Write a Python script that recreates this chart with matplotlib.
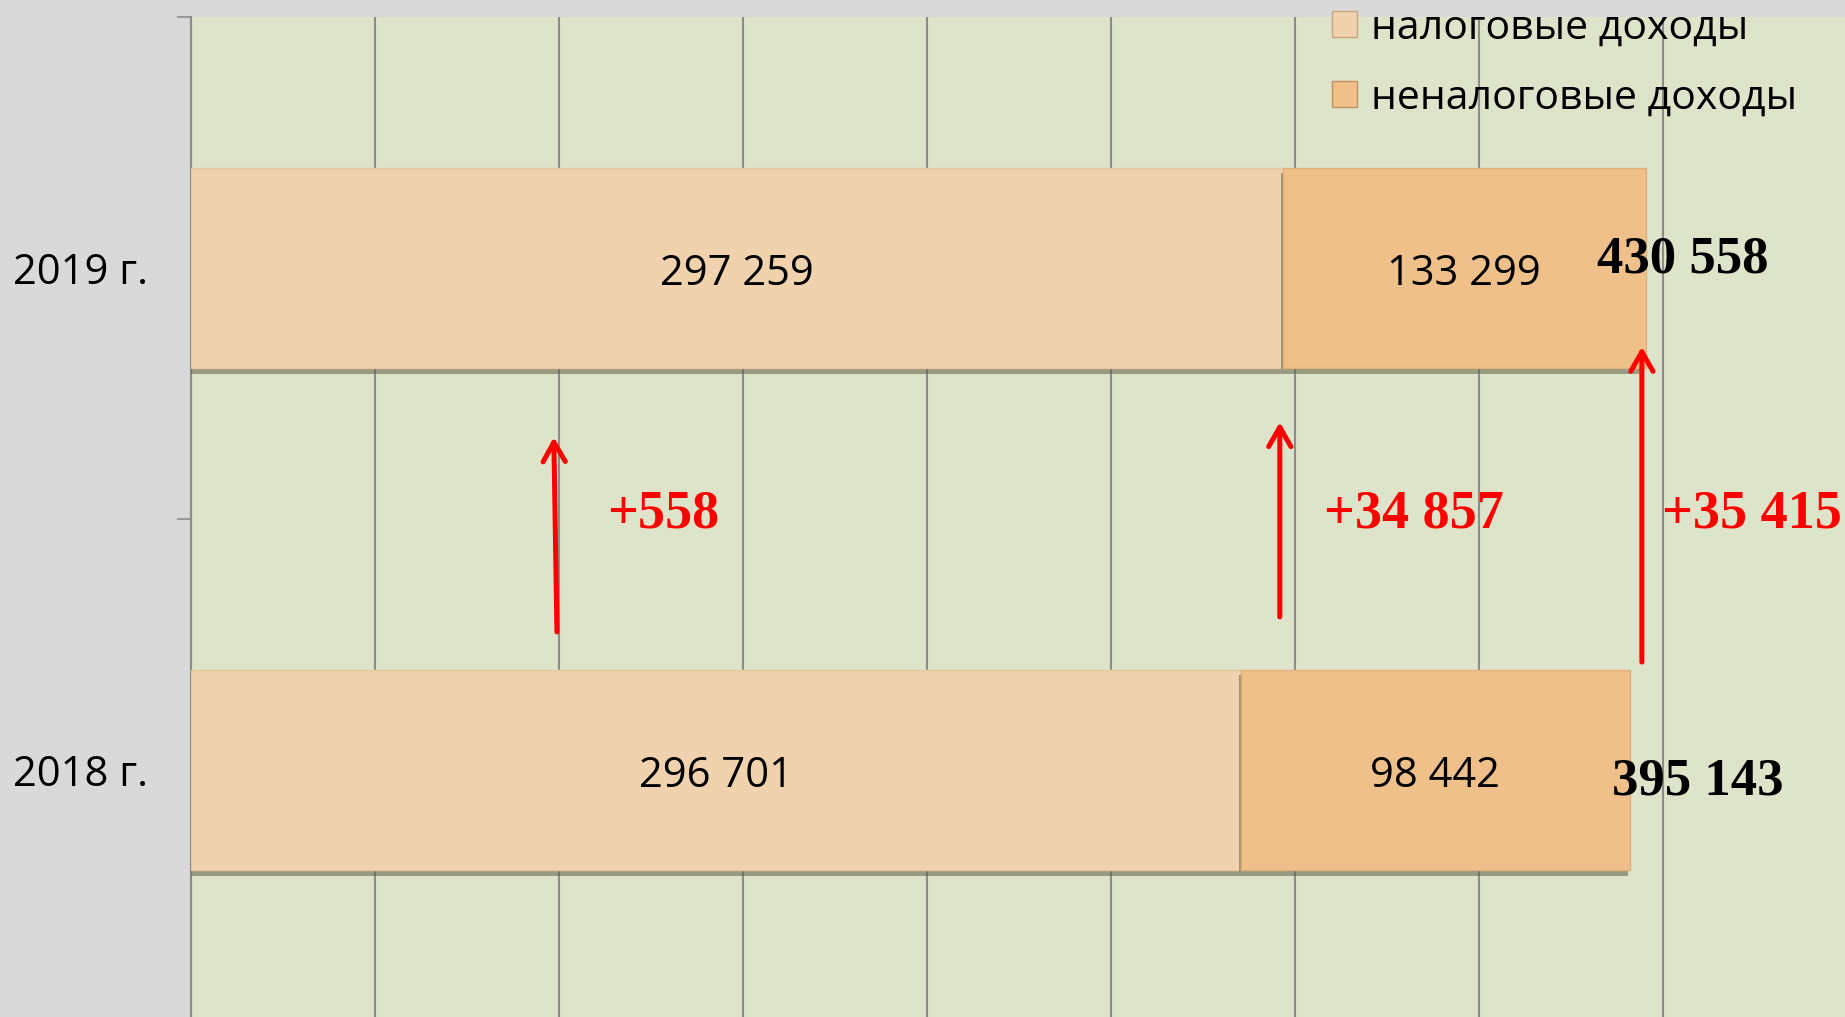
import matplotlib
matplotlib.use("Agg")
import matplotlib.pyplot as plt
import matplotlib.patheffects as pe
from matplotlib.patches import Patch

# ---------------------------------------------------------------------------
# Data (bar lengths as drawn in the picture; labels are the reported values)
# ---------------------------------------------------------------------------
categories = ["2018 г.", "2019 г."]
tax_bar = [285300, 296700]        # налоговые доходы, drawn length
nontax_bar = [105700, 98600]      # неналоговые доходы, drawn length
tax_values = [296701, 297259]
nontax_values = [98442, 133299]
totals = [395143, 430558]
changes = [558, 34857, 35415]     # tax, non-tax, total

series_names = ["налоговые доходы", "неналоговые доходы"]

TAX_COLOR = "#f0d2ae"
NONTAX_COLOR = "#efc089"
PLOT_BG = "#dee4ca"
FIG_BG = "#d9d9d9"
GRID = "#8c8c8c"
SANS = ["Open Sans", "DejaVu Sans"]
SERIF = ["Liberation Serif", "DejaVu Serif"]


def fmt(v):
    return f"{v:,}".replace(",", " ")


W, H = 1845, 1017
fig = plt.figure(figsize=(W / 100, H / 100), dpi=100, facecolor=FIG_BG)
# plot area: left edge at x=191px, top at y=17px, bottom just past the image
ax = fig.add_axes([191 / W, -4 / H, (W - 191) / W, 1004 / H])
ax.set_facecolor(PLOT_BG)

y = list(range(len(categories)))
shadow = [pe.SimplePatchShadow(offset=(-1.5, -4), shadow_rgbFace="#5f5f48", alpha=0.55),
          pe.Normal()]
b1 = ax.barh(y, tax_bar, height=0.4, color=TAX_COLOR, edgecolor="#e6c7a0",
             linewidth=1.0, zorder=3)
b2 = ax.barh(y, nontax_bar, left=tax_bar, height=0.4, color=NONTAX_COLOR,
             edgecolor="#e0b07a", linewidth=1.0, zorder=3)
for bar in list(b1) + list(b2):
    bar.set_path_effects(shadow)

# value labels inside the segments
lbl = dict(ha="center", va="center", fontsize=30, family=SANS, zorder=5,
           textcoords="offset points", xytext=(0, -4))
for i in y:
    ax.annotate(fmt(tax_values[i]), (tax_bar[i] / 2, i), **lbl)
    ax.annotate(fmt(nontax_values[i]), (tax_bar[i] + nontax_bar[i] / 2, i), **lbl)

# totals (bold serif)
tot = dict(ha="left", va="center", fontsize=38, family=SERIF, weight="bold",
           zorder=6, textcoords="offset points", xytext=(0, -4))
ax.annotate(fmt(totals[1]), (382000, 1.028), **tot)
ax.annotate(fmt(totals[0]), (386100, -0.012), **tot)

# change arrows and labels
arrow_kw = dict(arrowstyle="->,head_length=1.4,head_width=0.8", color="red",
                lw=3.6, shrinkA=0, shrinkB=0)
ax.annotate("", xy=(98600, 0.663), xytext=(99450, 0.275), arrowprops=arrow_kw, zorder=6)
ax.annotate("", xy=(295900, 0.693), xytext=(295900, 0.305), arrowprops=arrow_kw, zorder=6)
ax.annotate("", xy=(394300, 0.843), xytext=(394300, 0.215), arrowprops=arrow_kw, zorder=6)

change_x = [113000, 307800, 399900]
for cx, c in zip(change_x, changes):
    ax.annotate("+" + fmt(c), (cx, 0.518), ha="left", va="center", fontsize=39,
                family=SERIF, weight="bold", color="red", zorder=6,
                textcoords="offset points", xytext=(0, -3))

# axes styling
ax.set_xlim(0, 449500)
ax.set_ylim(-0.5, 1.5)
ax.set_xticks(range(0, 449500, 50000))
ax.xaxis.grid(True, color=GRID, linewidth=1.5)
ax.set_axisbelow(True)
ax.tick_params(axis="x", length=0, labelbottom=False)
for s in ["top", "right", "bottom"]:
    ax.spines[s].set_visible(False)
ax.spines["left"].set_color(GRID)
ax.spines["left"].set_linewidth(1.5)

ax.set_yticks([-0.5, 0.5, 1.5])
ax.set_yticklabels([])
ax.tick_params(axis="y", which="major", length=10, width=1.2, color=GRID, direction="out")
ax.set_yticks(y, minor=True)
ax.set_yticklabels(categories, minor=True, fontsize=30, family=SANS)
ax.tick_params(axis="y", which="minor", length=0, pad=31)

handles = [Patch(facecolor=TAX_COLOR, edgecolor="#c9a57a"),
           Patch(facecolor=NONTAX_COLOR, edgecolor="#c09060")]
leg = fig.legend(handles, series_names, loc="upper left",
                 bbox_to_anchor=(1316 / W, 1 + 8 / H), frameon=False,
                 prop={"family": SANS, "size": 29.5}, handlelength=0.6,
                 handleheight=0.6, handletextpad=0.35, labelspacing=0.72,
                 borderaxespad=0)
leg.set_zorder(10)

fig.savefig("out.png", dpi=100, facecolor=FIG_BG)
